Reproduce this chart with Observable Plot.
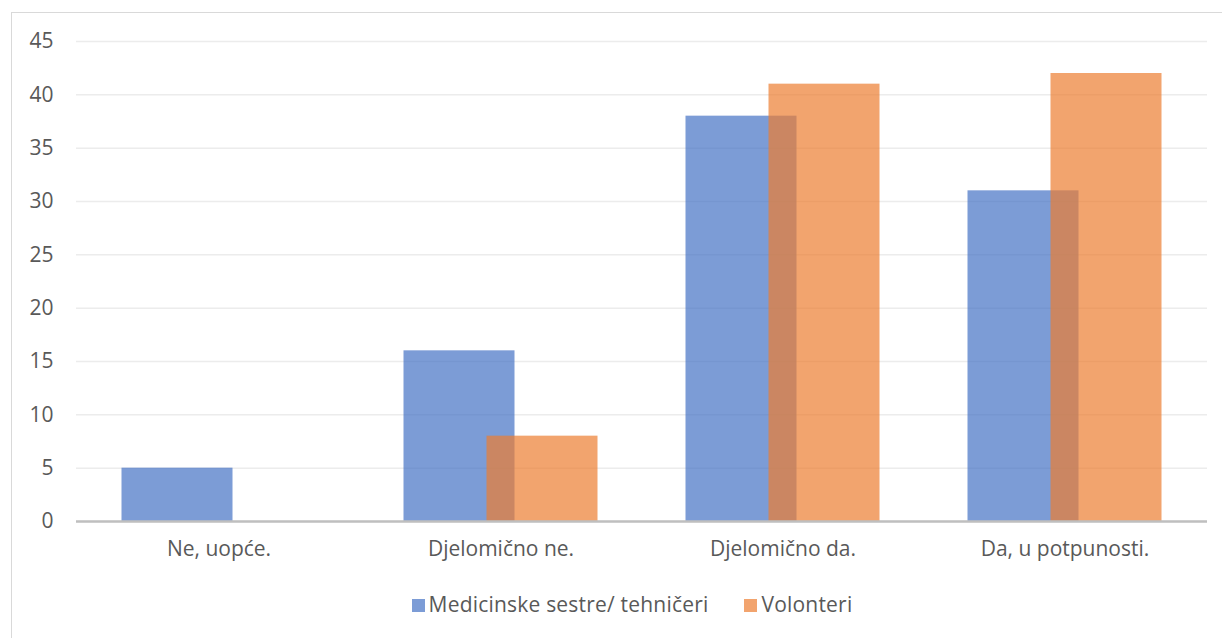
<!DOCTYPE html>
<html><head><meta charset="utf-8">
<script src="https://cdn.jsdelivr.net/npm/d3@7"></script>
<script src="https://cdn.jsdelivr.net/npm/@observablehq/plot@0.6"></script>
<style>
html,body{margin:0;background:#fff;font-family:"Open Sans",sans-serif;overflow:hidden;width:1222px;height:638px;}
#frame{position:absolute;left:11px;top:12px;width:1230px;height:640px;border:1px solid #d9d9d9;box-sizing:border-box;}
#chart{position:absolute;left:0;top:0;}
#legend{position:absolute;top:590px;left:0;width:1222px;display:flex;justify-content:center;gap:36px;font-size:21px;letter-spacing:0.2px;color:#595959;padding-left:42px;box-sizing:border-box;}
#legend span.sw{display:inline-block;width:13px;height:13px;margin-right:4px;vertical-align:0px;}
</style></head>
<body>
<div id="frame"></div>
<div id="chart"></div>
<div id="legend"></div>
<script>
const categories = ["Ne, uopće.", "Djelomično ne.", "Djelomično da.", "Da, u potpunosti."];
const seriesNames = ["Medicinske sestre/ tehničeri", "Volonteri"];
const nurses = [5, 16, 38, 31];
const volunteers = [0, 8, 41, 42];
const yTicks = [0, 5, 10, 15, 20, 25, 30, 35, 40, 45];
const colors = ["#4472c4", "#ed7d31"];

const rows = [];
categories.forEach((c, i) => {
  rows.push({cat: c, series: seriesNames[0], value: nurses[i]});
  rows.push({cat: c, series: seriesNames[1], value: volunteers[i]});
});

const plot = Plot.plot({
  width: 1222, height: 570,
  marginLeft: 76, marginRight: 15, marginTop: 41, marginBottom: 49,
  style: {fontFamily: "Open Sans, sans-serif", fontSize: "21px", color: "#595959", background: "transparent"},
  x: {domain: categories, paddingInner: 0.608, paddingOuter: 0.304, align: 0.5, label: null},
  y: {domain: [0, 45], ticks: yTicks, label: null},
  marks: [
    Plot.gridY(yTicks, {stroke: "#ececec", strokeOpacity: 1, strokeWidth: 1.5}),
    Plot.axisY(yTicks, {tickSize: 0, tickPadding: 23, fontSize: 21, fill: "#595959", label: null}),
    Plot.axisX({tickSize: 0, tickPadding: 20, fontSize: 21, fill: "#595959", label: null}),
    Plot.barY(rows.filter(d => d.series === seriesNames[0]), {x: "cat", y: "value", fill: colors[0], fillOpacity: 0.7, dx: -41.5}),
    Plot.barY(rows.filter(d => d.series === seriesNames[1]), {x: "cat", y: "value", fill: colors[1], fillOpacity: 0.7, dx: 41.5}),
    Plot.ruleY([0], {stroke: "#bfbfbf", strokeWidth: 2.5})
  ]
});
document.getElementById("chart").appendChild(plot);

const legend = document.getElementById("legend");
seriesNames.forEach((s, i) => {
  const item = document.createElement("div");
  const sw = document.createElement("span");
  sw.className = "sw";
  sw.style.background = colors[i];
  sw.style.opacity = 0.7;
  item.appendChild(sw);
  item.appendChild(document.createTextNode(s));
  legend.appendChild(item);
});
</script>
</body></html>
